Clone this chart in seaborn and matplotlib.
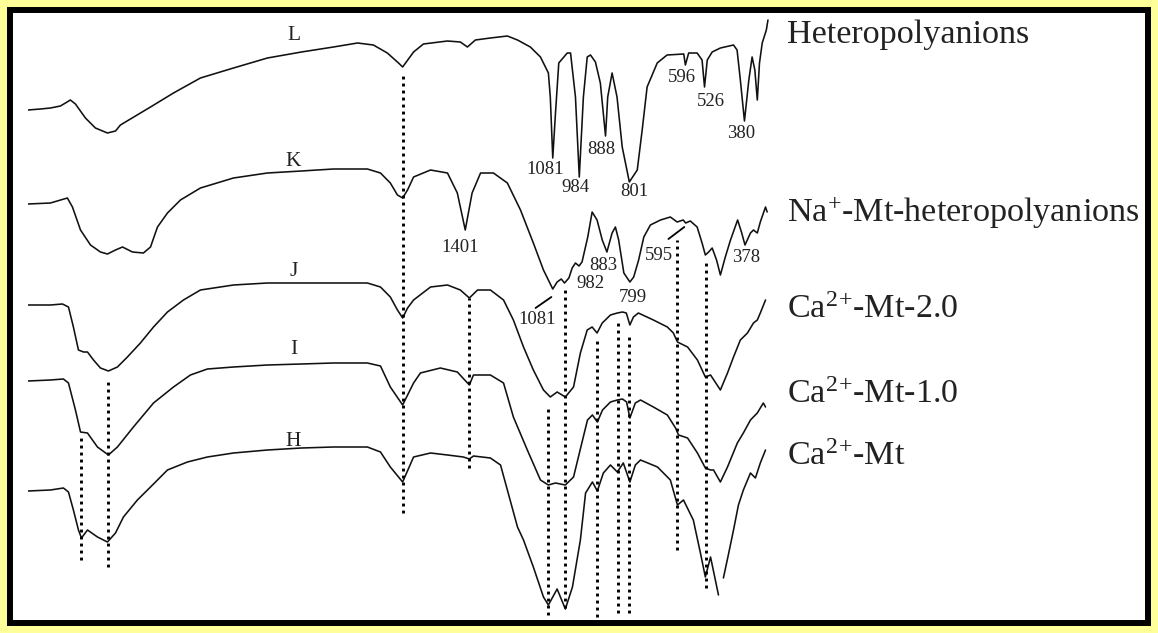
import numpy as np
import pandas as pd
import matplotlib
matplotlib.use("Agg")
import matplotlib.pyplot as plt
import seaborn as sns
from matplotlib.patches import Rectangle

# ---------------- data (wavenumber cm-1, offset transmittance a.u.) ----------------
wn_L = [4000, 3909, 3836, 3763, 3726, 3690, 3653, 3580, 3507, 3419, 3360, 3324, 3104, 2936,
        2739, 2497, 2249, 2000, 1883, 1795, 1737, 1686, 1645, 1630, 1590, 1554, 1466, 1419,
        1393, 1364, 1309, 1247, 1210, 1163, 1126, 1097, 1090, 1081, 1071, 1059, 1028, 1016,
        998, 984, 969, 955, 943, 925, 907, 888, 880, 864, 846, 827, 801, 772, 754, 736, 699,
        663, 602, 596, 584, 553, 535, 526, 516, 498, 468, 420, 407, 395, 380, 364, 352, 342,
        333, 325, 315, 300, 294]
T_L = [523, 524, 525, 527, 530, 533, 529, 515, 505, 500, 502, 508, 526, 540,
       555, 565, 575, 581, 586, 590, 588, 580, 570, 566, 581, 589, 592, 591,
       586, 593, 595, 597, 593, 586, 576, 560, 536, 475, 520, 570, 580, 580,
       536, 456, 536, 576, 578, 571, 550, 497, 536, 560, 536, 486, 451, 463, 503, 546, 570,
       578, 579, 568, 580, 580, 573, 546, 573, 581, 585, 588, 583, 553, 512, 553, 576, 563,
       533, 570, 590, 603, 613]

wn_K = [4000, 3836, 3712, 3675, 3616, 3543, 3470, 3419, 3360, 3309, 3236, 3156, 3104, 3053,
        2980, 2885, 2739, 2497, 2249, 2000, 1883, 1759, 1711, 1675, 1649, 1630, 1612, 1590,
        1528, 1466, 1430, 1401, 1376, 1345, 1298, 1247, 1199, 1152, 1115, 1081, 1065, 1050,
        1038, 1022, 1010, 998, 985, 974, 953, 937, 919, 900, 883, 864, 852, 840, 821, 799,
        785, 767, 748, 724, 687, 651, 626, 604, 595, 578, 553, 535, 523, 511, 498, 482, 468,
        450, 431, 405, 391, 378, 358, 347, 333, 322, 303, 297]
T_K = [429, 430, 435, 426, 403, 388, 381, 379, 383, 386, 381, 380, 386, 406,
       420, 433, 445, 455, 460, 462, 464, 464, 460, 450, 438, 435, 443, 456,
       463, 460, 440, 403, 440, 460, 460, 450, 423, 390, 363, 344, 351, 354,
       350, 355, 365, 370, 367, 371, 396, 421, 413, 393, 381, 400, 406, 393, 360, 351,
       356, 373, 396, 408, 413, 416, 411, 413, 410, 412, 406, 390, 378, 381, 385, 373, 358,
       376, 393, 413, 401, 388, 400, 403, 400, 411, 426, 421]

wn_J = [4000, 3836, 3748, 3704, 3668, 3631, 3594, 3565, 3521, 3470, 3412, 3346, 3273, 3178,
        3082, 2980, 2863, 2739, 2497, 2249, 2000, 1883, 1759, 1711, 1675, 1649, 1630, 1612,
        1590, 1528, 1466, 1419, 1386, 1356, 1309, 1261, 1225, 1188, 1152, 1115, 1090, 1065,
        1035, 1005, 980, 955, 937, 919, 900, 870, 845, 826, 812, 799, 786, 768, 713, 662,
        640, 625, 588, 552, 523, 504, 468, 442, 420, 395, 369, 347, 333, 322, 303]
T_J = [328, 328, 329, 326, 306, 283, 281, 281, 273, 265, 262, 266, 276, 290,
       306, 321, 333, 343, 348, 350, 350, 350, 350, 346, 336, 323, 315, 325,
       333, 346, 348, 343, 335, 343, 343, 333, 313, 286, 263, 243, 236, 241,
       236, 246, 280, 303, 306, 300, 310, 318, 320, 321, 320, 308, 316, 320, 313, 306,
       300, 291, 286, 273, 256, 258, 243, 260, 276, 293, 300, 310, 313, 320, 333]

wn_I = [4000, 3836, 3741, 3704, 3653, 3616, 3565, 3492, 3412, 3346, 3229, 3082, 2936, 2812,
        2688, 2497, 2249, 2000, 1883, 1759, 1711, 1675, 1630, 1590, 1565, 1492, 1430, 1386,
        1371, 1309, 1261, 1225, 1174, 1126, 1097, 1071, 1035, 1005, 972, 954, 936, 918, 899,
        870, 845, 826, 811, 799, 779, 760, 713, 662, 632, 621, 588, 552, 523, 504, 493, 468,
        442, 406, 384, 358, 333, 311, 303]
T_I = [252, 253, 254, 250, 223, 201, 200, 186, 178, 186, 206, 230, 246, 258,
       264, 266, 268, 269, 270, 270, 267, 246, 228, 250, 260, 265, 261, 248,
       258, 258, 250, 216, 183, 153, 148, 150, 148, 156, 193, 213, 218, 211, 223,
       231, 233, 234, 231, 215, 230, 233, 226, 218, 205, 198, 195, 180, 165, 163, 163, 151,
       166, 190, 200, 213, 220, 230, 226]

# H has a break in the recorded trace (NaN marks the gap)
wn_H = [4000, 3836, 3741, 3704, 3668, 3631, 3609, 3565, 3492, 3419, 3360, 3302, 3200, 3104,
        2980, 2834, 2688, 2497, 2249, 2000, 1883, 1759, 1711, 1675, 1630, 1590, 1528, 1466,
        1408, 1386, 1371, 1309, 1272, 1247, 1210, 1188, 1152, 1115, 1097, 1065, 1035, 1009,
        980, 961, 936, 918, 896, 870, 845, 823, 799, 779, 760, 698, 651, 625, 603, 567, 541,
        523, 504, 475, np.nan, 457, 439, 420, 402, 384, 358, 340, 322, 303]
T_H = [142, 143, 145, 141, 123, 103, 95, 103, 96, 91, 100, 116, 133, 146,
       163, 171, 176, 180, 183, 185, 186, 186, 181, 166, 151, 176, 180, 178,
       176, 174, 177, 175, 168, 143, 106, 93, 66, 36, 28, 44, 24, 46,
       93, 140, 151, 142, 160, 168, 161, 170, 151, 168, 173, 166, 153, 128, 133, 113, 80,
       56, 76, 38, np.nan, 55, 78, 103, 128, 143, 160, 155, 170, 183]

spectrum_names = ["L", "K", "J", "I", "H"]
sample_labels = ["Heteropolyanions", r"Na$^{+}$-Mt-heteropolyanions",
                 r"Ca$^{2}$$^{+}$-Mt-2.0", r"Ca$^{2}$$^{+}$-Mt-1.0",
                 r"Ca$^{2}$$^{+}$-Mt"]

# peak annotations: text, wavenumber, level
peak_text = ["1081", "984", "888", "801", "596", "526", "380",
             "1401", "883", "982", "799", "595", "378", "1081"]
peak_wn = [1108, 998, 903, 782, 610, 504, 391, 1419, 896, 943, 790, 694, 373, 1137]
peak_T = [464, 446, 484, 442, 555, 532, 499, 385, 368, 349, 335, 378, 375, 313]

# dotted guide lines: wavenumber, top, bottom
guide_wn = [1630, 1386, 1097, 1038, 918, 841, 801, 625, 519, 3609, 3412]
guide_top = [560, 335, 226, 343, 293, 310, 296, 393, 373, 196, 253]
guide_bottom = [120, 165, 18, 25, 16, 20, 20, 83, 45, 73, 66]

# ---------------- build long table ----------------
series = {"L": (wn_L, T_L), "K": (wn_K, T_K), "J": (wn_J, T_J),
          "I": (wn_I, T_I), "H": (wn_H, T_H)}
rows = []
for name, (w, t) in series.items():
    seg = 0
    for wi, ti in zip(w, t):
        if np.isnan(wi) or np.isnan(ti):
            seg += 1
            continue
        rows.append((name, f"{name}{seg}", wi, ti))
df = pd.DataFrame(rows, columns=["spectrum", "trace", "wavenumber", "T"])

# ---------------- style ----------------
sns.set_style("white")
plt.rcParams["font.family"] = ["Liberation Serif", "DejaVu Serif"]
plt.rcParams["mathtext.fontset"] = "custom"
plt.rcParams["mathtext.rm"] = "Liberation Serif"
plt.rcParams["mathtext.it"] = "Liberation Serif"
plt.rcParams["mathtext.bf"] = "Liberation Serif:bold"

W, H = 1158, 633
fig = plt.figure(figsize=(W / 100, H / 100), dpi=100, facecolor="#FFFF99")
fig.add_artist(Rectangle((10 / W, 10 / H), 1138 / W, 613 / H, transform=fig.transFigure,
                         facecolor="white", edgecolor="black", linewidth=4.3, zorder=-10))

ax = fig.add_axes([28 / W, 0, 752 / W, 1])


def fwd(w):
    w = np.asarray(w, dtype=float)
    return np.where(w > 2000, 2000 + (w - 2000) / 2.0, w)


def inv(u):
    u = np.asarray(u, dtype=float)
    return np.where(u > 2000, 2000 + 2.0 * (u - 2000), u)


ax.set_xscale("function", functions=(fwd, inv))

sns.lineplot(data=df, x="wavenumber", y="T", units="trace", estimator=None, sort=False,
             color="#111111", linewidth=1.15, ax=ax, legend=False)

ax.vlines(guide_wn, guide_bottom, guide_top, colors="black", linewidths=2.1,
          linestyles=[(0, (1.0, 1.4))])

# leader lines
ax.plot([1144, 1086], [325, 336], color="black", lw=1.3)
ax.plot([658, 600], [394, 406], color="black", lw=1.3)

for txt, w, t in zip(peak_text, peak_wn, peak_T):
    ax.text(w, t, txt, ha="center", va="center", fontsize=13.5, color="#222222")

letter_T = [597, 471, 361, 283, 192]
for name, t in zip(spectrum_names, letter_T):
    ax.text(2058, t, name, ha="center", va="center", fontsize=15.5, color="#222222")

ax.set_xlim(4000, 250)
ax.set_ylim(0, H)
ax.axis("off")

label_baseline = [43, 222, 318, 403, 465]
for lab, b in zip(sample_labels, label_baseline):
    fig.text(787 / W, 1 - b / H, lab, ha="left", va="baseline", fontsize=24.6, color="#222222")

fig.savefig("out.png", dpi=100, facecolor=fig.get_facecolor())
